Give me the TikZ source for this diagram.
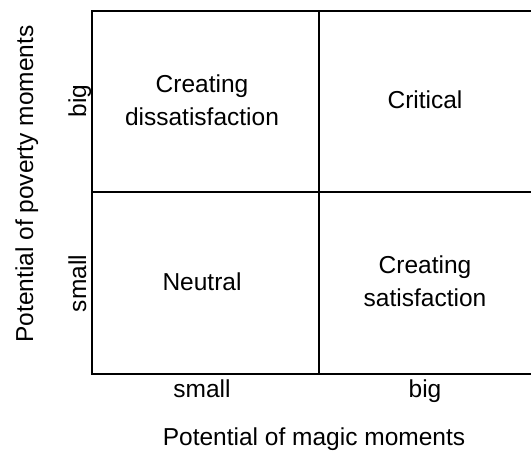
\documentclass[tikz,border=0pt]{standalone}
\usepackage{fontspec}
\setmainfont{Liberation Sans}
\begin{document}
\begin{tikzpicture}[x=1pt,y=-1pt,
  lbl/.style={font=\fontsize{24.5}{32.5}\selectfont, inner sep=0pt, anchor=base, align=center},
  grid/.style={line width=2pt}]
\useasboundingbox (0,0) rectangle (531,451);
% matrix frame (right edge lies beyond the page)
\draw[grid] (533,11) -- (92,11) -- (92,374) -- (533,374);
\draw[grid] (92,192) -- (533,192);
\draw[grid] (318.5,11) -- (318.5,374);
% quadrant labels (base anchor sits on the last line)
\node[lbl] (cd) at (202,125) {Creating\\dissatisfaction};
\node[lbl] (cr) at (425,108) {Critical};
\node[lbl] (ne) at (202,290) {Neutral};
\node[lbl] (cs) at (425,306) {Creating\\satisfaction};
% axis ticks
\node[lbl] (xs) at (202,397.5) {small};
\node[lbl] (xb) at (425,397.5) {big};
\node[lbl, rotate=90] (yb) at (86,101) {big};
\node[lbl, rotate=90] (ys) at (86,283.5) {small};
% axis titles
\node[lbl] (xt) at (314,445) {Potential of magic moments};
\node[lbl, rotate=90] (yt) at (33,184) {Potential of poverty moments};
\end{tikzpicture}
\end{document}
